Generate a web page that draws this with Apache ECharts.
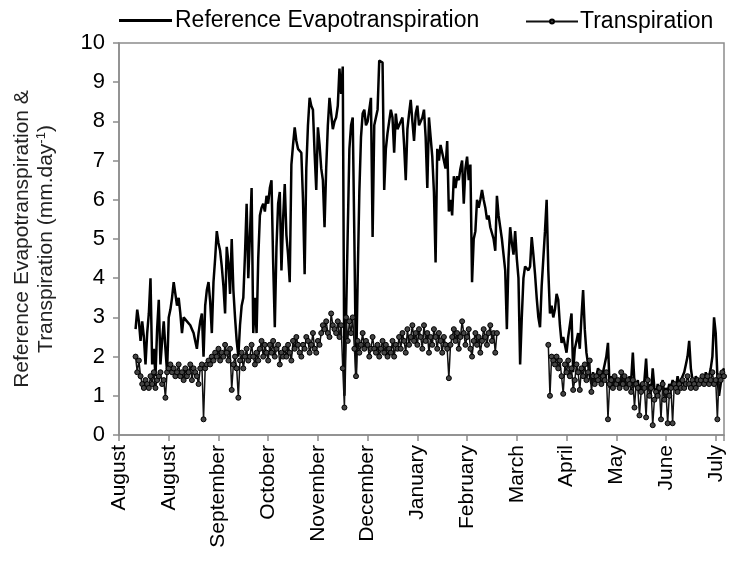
<!DOCTYPE html>
<html>
<head>
<meta charset="utf-8">
<script src="https://cdn.jsdelivr.net/npm/echarts@6/dist/echarts.min.js"></script>
<style>html,body{margin:0;padding:0;background:#fff}#c{width:730px;height:576px}</style>
</head>
<body>
<div id="c"></div>
<script>
// x axis: days since 1 August; ticks every 30 days
const tickLabels = ['August','August','September','October','November','December','January','February','March','April','May','June','July'];
const startDay = 10;

// Reference evapotranspiration (mm/day), one value per day from startDay
const etValues = [
  2.7, 3.2, 2.9, 2.4, 2.9, 2.5, 1.8, 2.6, 3.1, 4.0,
  1.8, 2.2, 1.5, 2.7, 3.45, 1.8, 2.4, 2.9, 2.2, 1.6,
  3.0, 3.2, 3.5, 3.9, 3.6, 3.3, 3.5, 3.1, 2.6, 3.0,
  3.0, 2.9, 2.9, 2.8, 2.7, 2.6, 2.4, 2.2, 2.6, 2.9,
  3.1, 2.0, 3.3, 3.7, 3.9, 3.4, 2.6, 3.9, 4.5, 5.2,
  4.9, 4.7, 4.3, 3.8, 3.1, 4.8, 4.4, 3.6, 5.0, 3.7,
  3.0, 2.4, 2.0, 2.8, 3.3, 3.5, 4.6, 5.9, 4.0, 5.1,
  6.3, 2.6, 3.5, 2.6, 4.5, 5.6, 5.8, 5.9, 5.7, 6.1,
  5.9, 6.3, 6.5, 4.4, 2.75, 4.8, 5.9, 6.2, 4.2, 5.5,
  6.4, 5.1, 4.6, 3.9, 6.9, 7.4, 7.85, 7.5, 7.3, 7.3,
  7.2, 6.0, 4.1, 6.8, 7.9, 8.6, 8.4, 8.3, 7.2, 6.25,
  7.85, 7.4, 6.8, 6.5, 5.3, 6.8, 7.9, 8.6, 8.2, 7.8,
  8.0, 8.1, 8.4, 9.35, 8.7, 9.4, 1.0, 3.0, 5.2, 7.3,
  7.9, 8.1, 5.0, 1.5, 4.0, 6.2, 7.6, 8.2, 8.3, 7.9,
  8.0, 8.3, 8.6, 5.05, 7.9, 8.1, 8.3, 9.55, 9.6, 9.5,
  6.25, 7.3, 7.7, 8.0, 8.3, 8.1, 7.2, 8.2, 7.8, 7.9,
  8.0, 8.1, 7.4, 6.5, 7.8, 8.2, 8.55, 8.0, 7.5, 8.2,
  8.4, 7.9, 8.0, 8.1, 8.3, 7.6, 6.3, 8.1, 7.6, 7.1,
  6.2, 4.4, 7.3, 7.0, 7.4, 7.2, 7.0, 6.8, 7.5, 5.7,
  6.0, 5.6, 6.6, 6.3, 6.6, 6.5, 6.8, 7.0, 5.9, 6.8,
  7.1, 6.5, 6.9, 3.9, 5.0, 5.2, 6.0, 5.8, 6.0, 6.25,
  6.0, 5.8, 5.5, 5.6, 5.3, 5.25, 5.0, 4.7, 6.1, 5.6,
  5.3, 5.0, 4.6, 4.2, 2.7, 4.5, 5.3, 4.9, 4.6, 5.2,
  4.5, 4.0, 1.8, 3.0, 4.0, 4.3, 4.3, 4.2, 4.3, 5.05,
  4.6, 4.1, 3.5, 3.0, 2.75, 3.8, 4.5, 5.2, 6.0, 4.2,
  3.1, 3.3, 3.0, 3.2, 3.6, 3.45, 2.8, 2.35, 2.5, 2.3,
  2.1, 2.5, 2.8, 3.1, 1.6, 2.2, 2.4, 2.6, 2.2, 3.0,
  3.7, 2.7, 2.1, 1.8, 1.5, 1.3, 1.6, 1.4, 1.5, 1.7,
  1.6, 1.5, 1.6, 1.8, 2.0, 2.35, 1.2, 1.5, 1.3, 1.4,
  1.3, 1.4, 1.2, 1.5, 1.3, 1.4, 1.2, 1.3, 1.5, 1.4,
  2.1, 1.3, 1.2, 1.4, 1.1, 1.3, 1.2, 1.4, 1.95, 1.2,
  1.3, 1.1, 1.7, 1.2, 1.0, 1.3, 1.1, 1.2, 1.4, 1.0,
  1.2, 1.1, 1.3, 1.2, 1.4, 1.3, 1.2, 1.5, 1.3, 1.4,
  1.5, 1.6, 1.8, 2.0, 2.4, 1.7, 1.4, 1.3, 1.5, 1.4,
  1.3, 1.4, 1.5, 1.3, 1.6, 1.4, 1.5, 1.7, 2.0, 3.0,
  2.6, 1.5, 1.0, 1.3, 1.6, 1.7
];

// Transpiration (mm/day), one value per day from startDay; null = no data
const trValues = [
  2.0, 1.6, 1.9, 1.5, 1.3, 1.2, 1.4, 1.3, 1.2, 1.5,
  1.3, 1.6, 1.2, 1.4, 1.5, 1.6, 1.3, 1.4, 0.95, 1.6,
  1.7, 1.8, 1.6, 1.7, 1.5, 1.6, 1.8, 1.5, 1.6, 1.4,
  1.7, 1.5, 1.6, 1.8, 1.4, 1.7, 1.6, 1.5, 1.3, 1.7,
  1.8, 0.4, 1.7, 1.8, 1.9, 1.8, 2.0, 1.9, 2.1, 2.0,
  2.2, 1.9, 2.1, 2.0, 2.3, 2.1, 1.9, 2.2, 1.15, 1.8,
  2.0, 1.7, 0.95, 1.9, 2.1, 1.7, 2.0, 2.2, 1.9, 2.0,
  2.3, 2.0, 1.8, 2.1, 1.9, 2.2, 2.4, 2.0, 2.3, 2.1,
  1.9, 2.3, 2.1, 2.4, 2.0, 2.2, 2.3, 1.8, 2.1, 2.0,
  2.2, 2.0, 2.3, 2.1, 1.9, 2.4, 2.2, 2.5, 2.3, 2.1,
  2.0, 2.3, 2.2, 2.5, 2.4, 2.1, 2.3, 2.6, 2.2, 2.1,
  2.4, 2.3, 2.6, 2.8, 2.7, 2.9, 2.6, 2.5, 3.1, 2.8,
  2.7, 2.6, 2.9, 2.5, 2.8, 1.7, 0.7, 3.0, 2.4, 2.9,
  2.6, 3.0, 2.2, 1.5, 2.4, 2.1, 2.3, 2.6, 2.2, 2.4,
  2.3, 2.0, 2.2, 2.5, 2.2, 2.1, 2.3, 2.0, 2.2, 2.4,
  2.1, 2.3, 2.0, 2.2, 2.1, 2.4, 2.0, 2.3, 2.2, 2.5,
  2.2, 2.6, 2.4, 2.1, 2.7, 2.3, 2.5, 2.8, 2.4, 2.6,
  2.3, 2.7, 2.5, 2.2, 2.8, 2.4, 2.6, 2.1, 2.5, 2.3,
  2.7, 2.5, 2.2, 2.6, 2.4, 2.1, 2.5, 2.3, 2.2, 1.45,
  2.3, 2.5, 2.7, 2.4, 2.6, 2.2, 2.5, 2.9, 2.6, 2.3,
  2.5, 2.7, 2.2, 2.0, 2.4, 2.6, 2.3, 2.5, 2.1, 2.4,
  2.7, 2.5, 2.3, 2.6, 2.8, 2.4, 2.6, 2.1, 2.6, null,
  null, null, null, null, null, null, null, null, null, null,
  null, null, null, null, null, null, null, null, null, null,
  null, null, null, null, null, null, null, null, null, 2.3,
  1.0, 2.0, 1.9, 1.8, 2.0, 1.7, 1.9, 1.5, 1.05, 1.8,
  1.6, 1.9, 1.5, 1.7, 1.15, 1.4, 1.8, 1.6, 1.15, 1.7,
  1.5, 1.8, 1.4, 1.6, 1.9, 1.1, 1.5, 1.3, 1.5, 1.4,
  1.6, 1.3, 1.5, 1.4, 1.6, 0.4, 1.3, 1.4, 1.2, 1.5,
  1.3, 1.4, 1.2, 1.6, 1.3, 1.5, 1.2, 1.4, 1.3, 1.1,
  1.4, 0.7, 1.3, 1.2, 0.5, 1.1, 1.3, 1.2, 0.45, 1.4,
  1.0, 1.2, 0.25, 0.9, 1.1, 1.0, 1.2, 0.4, 1.3, 0.9,
  1.1, 0.3, 1.0, 1.2, 0.3, 1.3, 1.2, 1.1, 1.3, 1.2,
  1.4, 1.2, 1.3, 1.5, 1.3, 1.2, 1.4, 1.3, 1.2, 1.4,
  1.3, 1.4, 1.5, 1.3, 1.4, 1.5, 1.3, 1.4, 1.6, 1.3,
  1.4, 0.4, 1.5, 1.4, 1.6, 1.5
];

const etData = etValues.map((v, i) => [startDay + i, v]);
const trData = trValues.map((v, i) => [startDay + i, v]);

const font = 'Liberation Sans, Arial, sans-serif';
const chart = echarts.init(document.getElementById('c'), null, {renderer: 'canvas'});
chart.setOption({
  animation: false,
  backgroundColor: '#fff',
  legend: [
    {
      data: [{name: 'Reference Evapotranspiration', icon: 'rect'}],
      left: 114, top: 4, itemWidth: 53, itemHeight: 3, itemGap: 0,
      textStyle: {fontFamily: font, fontSize: 23, color: '#000', padding: [0, 0, 0, -2]}
    },
    {
      data: ['Transpiration'],
      left: 520, top: 5, itemWidth: 52, itemHeight: 5,
      textStyle: {fontFamily: font, fontSize: 23, color: '#000', padding: [0, 0, 0, -3]}
    }
  ],
  grid: {left: 119, right: 6, top: 43, bottom: 141, show: true, borderColor: '#8c8c8c', borderWidth: 1.5,
         outerBoundsMode: 'none', containLabel: false},
  xAxis: {
    type: 'value', min: 0, max: 365, interval: 30,
    splitLine: {show: false},
    axisLine: {lineStyle: {color: '#8c8c8c', width: 1.5}},
    axisTick: {show: true, inside: false, length: 6, lineStyle: {color: '#8c8c8c', width: 1.5}},
    axisLabel: {
      rotate: 90, margin: 10, color: '#000', fontFamily: font, fontSize: 21,
      formatter: v => (v % 30 === 0 && v / 30 < tickLabels.length) ? tickLabels[v / 30] : ''
    }
  },
  yAxis: {
    type: 'value', min: 0, max: 10, interval: 1,
    splitLine: {show: false},
    axisLine: {show: true, lineStyle: {color: '#8c8c8c', width: 1.5}},
    axisTick: {show: true, inside: false, length: 6, lineStyle: {color: '#8c8c8c', width: 1.5}},
    axisLabel: {color: '#000', fontFamily: font, fontSize: 22, margin: 14},
    name: 'Reference Evapotranspiration &\nTranspiration (mm.day{sup|-1})',
    nameLocation: 'middle', nameGap: 61, nameRotate: 90,
    nameTextStyle: {
      fontFamily: font, fontSize: 21, color: '#222', lineHeight: 24, align: 'center',
      rich: {sup: {fontFamily: font, fontSize: 13, color: '#222', padding: [0, 0, 10, 0]}}
    }
  },
  series: [
    {
      name: 'Reference Evapotranspiration', type: 'line', data: etData,
      showSymbol: false, symbol: 'none',
      lineStyle: {color: '#000', width: 2.5}, itemStyle: {color: '#000'}
    },
    {
      name: 'Transpiration', type: 'line', data: trData,
      symbol: 'circle', symbolSize: 5, showSymbol: true, connectNulls: false,
      lineStyle: {color: '#111', width: 1.5},
      itemStyle: {color: '#444', borderColor: '#000', borderWidth: 1}
    }
  ]
});
</script>
</body>
</html>
